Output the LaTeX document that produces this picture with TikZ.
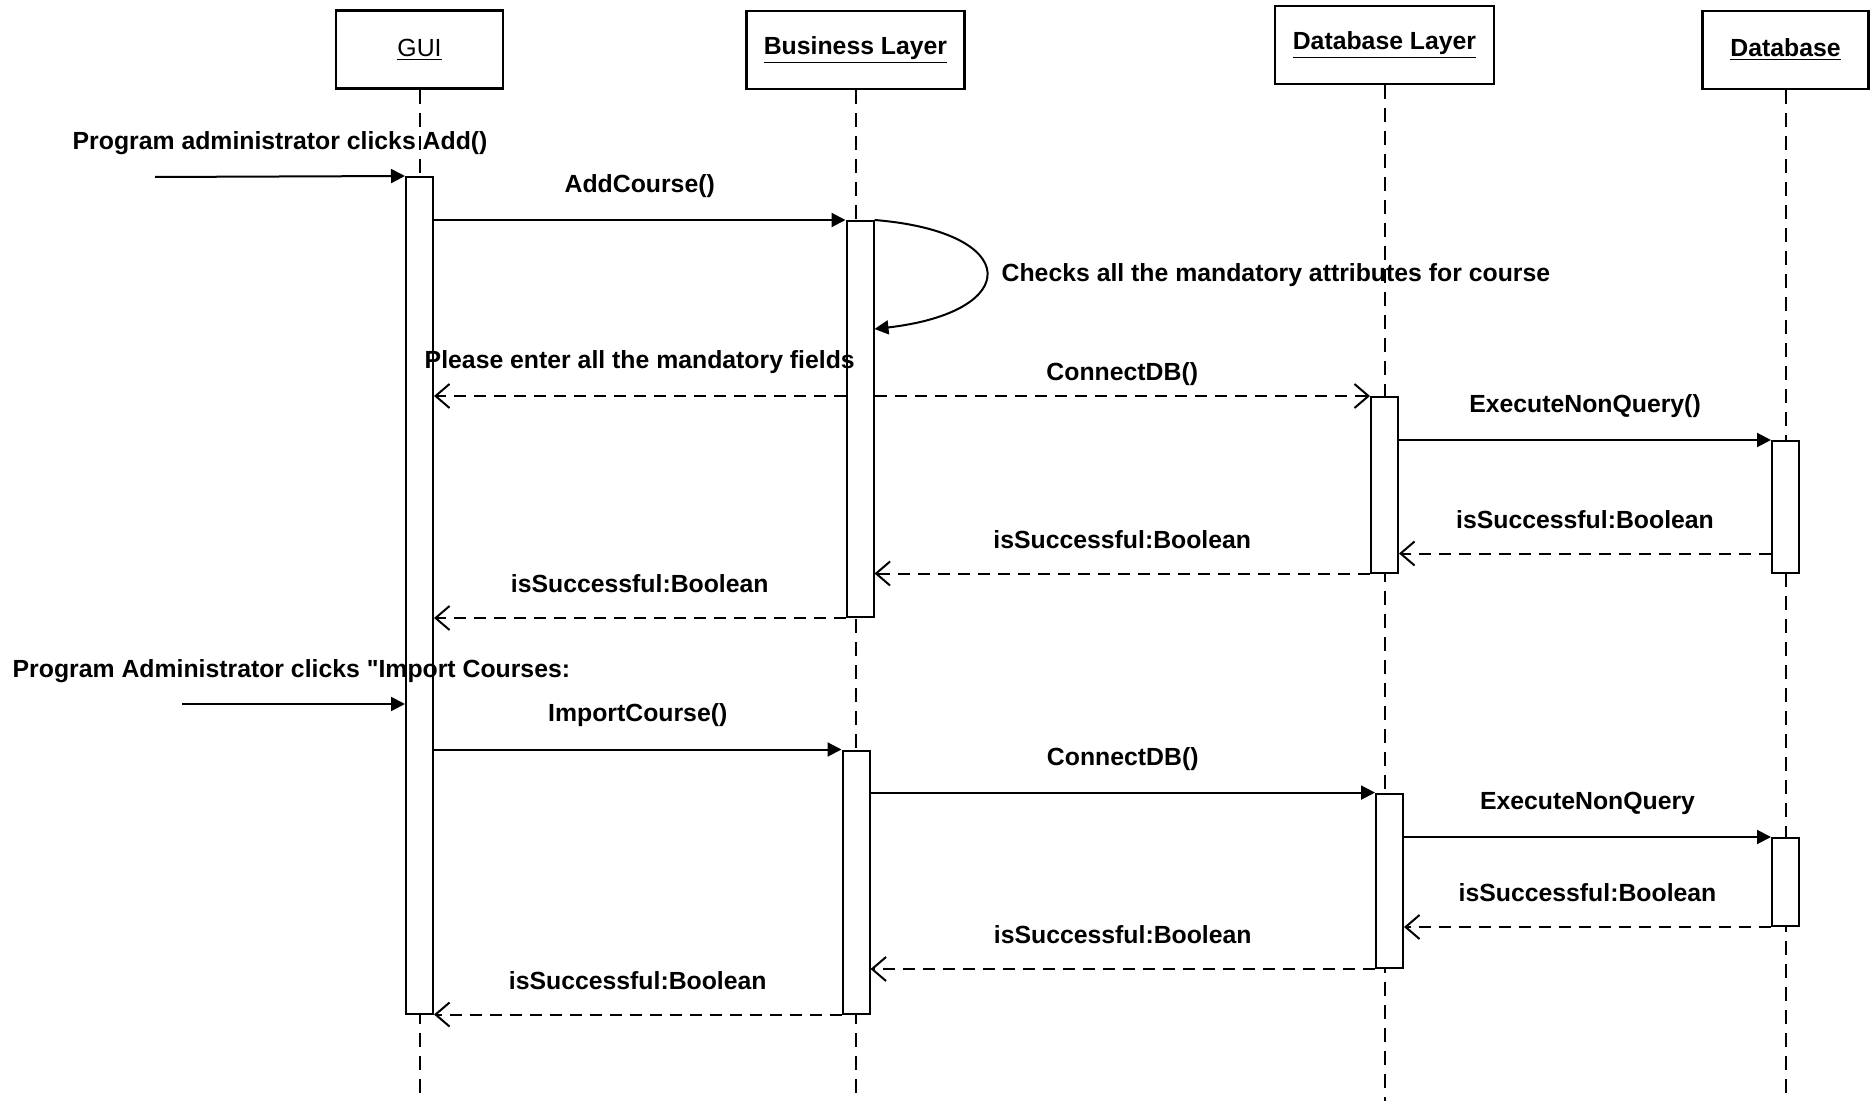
\documentclass[tikz,border=0pt]{standalone}
\usepackage{fontspec}
\setmainfont{Liberation Sans}[Ligatures=TeXOff]
\usetikzlibrary{arrows.meta}

\begin{document}
\begin{tikzpicture}[x=0.5pt,y=-0.5pt,line width=1pt,
  >={Triangle[length=7pt,width=7pt]},
  obj/.style={draw,line width=1.2pt,minimum height=39pt,inner sep=0pt,font=\fontsize{12.4}{15}\selectfont\bfseries},
  act/.style={draw,fill=white,minimum width=13.5pt,inner sep=0pt},
  life/.style={dash pattern=on 7pt off 4.5pt},
  call/.style={->},
  ret/.style={-{Straight Barb[length=7pt,width=12pt]},dash pattern=on 6pt off 4pt},
  msg/.style={font=\fontsize{12.4}{15}\selectfont\bfseries,yshift=17pt},
  note/.style={font=\fontsize{12.4}{15}\selectfont\bfseries,anchor=west}]

  \useasboundingbox (0,0) rectangle (1874,1101);

  % objects
  \node[obj,minimum width=83.5pt,font=\fontsize{12.4}{15}\selectfont] (gui) at (419.5,49.5) {\underline{GUI}};
  \node[obj,minimum width=109pt] (bus) at (855.5,50) {\underline{Business Layer}};
  \node[obj,minimum width=109.5pt] (dbl) at (1384.5,45) {\underline{Database Layer}};
  \node[obj,minimum width=83pt] (db) at (1785.5,50) {\underline{Database}};

  % lifelines
  \coordinate (bottom) at (0,1104);
  \draw[life] (gui) -- (gui |- bottom);
  \draw[life] (bus) -- (bus |- bottom);
  \draw[life] (dbl) -- (dbl |- bottom);
  \draw[life] (db) -- (db |- bottom);

  % activations
  \node[act,minimum height=418.25pt] (gA) at (419.5,595.25) {};
  \node[act,minimum height=198pt] (bA1) at (860,419) {};
  \node[act,minimum height=87.75pt] (dA1) at (1384.5,484.75) {};
  \node[act,minimum height=65.75pt] (sA1) at (1785.5,506.75) {};
  \node[act,minimum height=131.5pt] (bA2) at (856,882) {};
  \node[act,minimum height=87.2pt] (dA2) at (1389.5,880.8) {};
  \node[act,minimum height=44pt] (sA2) at (1785.5,882) {};

  % add course
  \coordinate (f1) at (155,177);
  \node[note] (addtxt) at (65,143) {Program administrator clicks Add()};
  \draw[call] (f1) -- (gA.north west);
  \draw[call] (gA.east |- bA1.north) -- node[msg] {AddCourse()} (bA1.north west);
  \draw[call] (bA1.north east) .. controls (1023,232) and (1023,312) .. ([yshift=-54.5pt]bA1.north east);
  \node[note] (chk) at (994,275) {Checks all the mandatory attributes for course};
  \draw[ret] (bA1.west |- dA1.north) -- node[msg] {Please enter all the mandatory fields} (gA.east |- dA1.north);
  \draw[ret] (bA1.east |- dA1.north) -- node[msg,yshift=-6pt] {ConnectDB()} (dA1.north west);
  \draw[call] (dA1.east |- sA1.north) -- node[msg] {ExecuteNonQuery()} (sA1.north west);
  \coordinate (r1) at ([yshift=10pt]sA1.south west);
  \draw[ret] (r1) -- node[msg] {isSuccessful:Boolean} (dA1.east |- r1);
  \draw[ret] (dA1.south west) -- node[msg] {isSuccessful:Boolean} (bA1.east |- dA1.south);
  \draw[ret] (bA1.south west) -- node[msg] {isSuccessful:Boolean} (gA.east |- bA1.south);

  % import courses
  \coordinate (f2) at (182,704);
  \node[note] (imptxt) at (5,671) {Program Administrator clicks "Import Courses:};
  \draw[call] (f2) -- (gA.west |- f2);
  \draw[call] (gA.east |- bA2.north) -- node[msg] {ImportCourse()} (bA2.north west);
  \draw[call] (bA2.east |- dA2.north) -- node[msg] {ConnectDB()} (dA2.north west);
  \draw[call] (dA2.east |- sA2.north) -- node[msg] {ExecuteNonQuery} (sA2.north west);
  \draw[ret] (sA2.south west) -- node[msg] {isSuccessful:Boolean} (dA2.east |- sA2.south);
  \draw[ret] (dA2.south west) -- node[msg] {isSuccessful:Boolean} (bA2.east |- dA2.south);
  \draw[ret] (bA2.south west) -- node[msg] {isSuccessful:Boolean} (gA.east |- bA2.south);

\end{tikzpicture}
\end{document}
